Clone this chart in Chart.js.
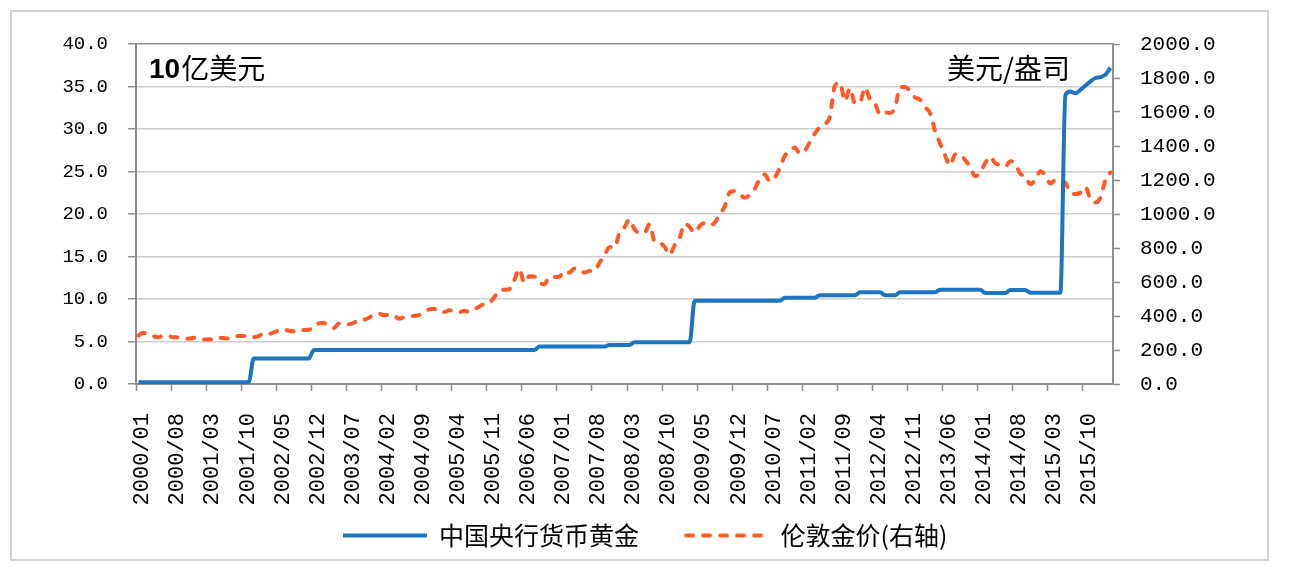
<!DOCTYPE html>
<html>
<head>
<meta charset="utf-8">
<script src="https://cdn.jsdelivr.net/npm/chart.js@4.4.1/dist/chart.umd.min.js"></script>
<style>
  html, body { margin: 0; padding: 0; background: #fff; }
</style>
</head>
<body>
<canvas id="myChart" width="1290" height="580"></canvas>
<script>
// months 2000/01 .. 2016/03
const months = [];
for (let i = 0; i < 195; i++) {
  const y = 2000 + Math.floor(i / 12);
  const m = (i % 12) + 1;
  months.push(y + '/' + (m < 10 ? '0' + m : m));
}

// 中国央行货币黄金, 10亿美元 (left axis)
const pbocGold = [
  0.2, 0.2, 0.2, 0.2, 0.2, 0.2, 0.2, 0.2, 0.2, 0.2, 0.2, 0.2,            // 2000
  0.2, 0.2, 0.2, 0.2, 0.2, 0.2, 0.2, 0.2, 0.2, 0.2, 0.2, 3.0,            // 2001
  3.0, 3.0, 3.0, 3.0, 3.0, 3.0, 3.0, 3.0, 3.0, 3.0, 3.0, 4.0,            // 2002
  4.0, 4.0, 4.0, 4.0, 4.0, 4.0, 4.0, 4.0, 4.0, 4.0, 4.0, 4.0,            // 2003
  4.0, 4.0, 4.0, 4.0, 4.0, 4.0, 4.0, 4.0, 4.0, 4.0, 4.0, 4.0,            // 2004
  4.0, 4.0, 4.0, 4.0, 4.0, 4.0, 4.0, 4.0, 4.0, 4.0, 4.0, 4.0,            // 2005
  4.0, 4.0, 4.0, 4.0, 4.0, 4.0, 4.0, 4.0, 4.4, 4.4, 4.4, 4.4,            // 2006
  4.4, 4.4, 4.4, 4.4, 4.4, 4.4, 4.4, 4.4, 4.4, 4.4, 4.6, 4.6,            // 2007
  4.6, 4.6, 4.6, 4.9, 4.9, 4.9, 4.9, 4.9, 4.9, 4.9, 4.9, 4.9,            // 2008
  4.9, 4.9, 4.9, 9.8, 9.8, 9.8, 9.8, 9.8, 9.8, 9.8, 9.8, 9.8,            // 2009
  9.8, 9.8, 9.8, 9.8, 9.8, 9.8, 9.8, 9.8, 9.8, 10.15, 10.15, 10.15,      // 2010
  10.15, 10.15, 10.15, 10.15, 10.45, 10.45, 10.45, 10.45, 10.45, 10.45, 10.45, 10.45, // 2011
  10.8, 10.8, 10.8, 10.8, 10.8, 10.45, 10.45, 10.45, 10.8, 10.8, 10.8, 10.8,          // 2012
  10.8, 10.8, 10.8, 10.8, 11.1, 11.1, 11.1, 11.1, 11.1, 11.1, 11.1, 11.1,             // 2013
  11.1, 10.7, 10.7, 10.7, 10.7, 10.7, 11.05, 11.05, 11.05, 11.05, 10.75, 10.75,       // 2014
  10.75, 10.75, 10.75, 10.75, 10.75, 34.0, 34.4, 34.2, 34.6, 35.1, 35.6, 36.0,        // 2015
  36.1, 36.4, 37.2                                                                     // 2016
];

// 伦敦金价, 美元/盎司 (right axis)
const londonGold = [
  285, 301, 286, 280, 275, 286, 282, 275, 274, 270, 266, 272,
  266, 262, 263, 261, 272, 270, 268, 272, 283, 283, 276, 276,
  282, 296, 294, 303, 315, 321, 313, 310, 319, 317, 319, 333,
  357, 359, 341, 328, 356, 356, 351, 360, 379, 379, 390, 408,
  414, 405, 407, 403, 384, 392, 398, 401, 405, 421, 439, 442,
  424, 423, 434, 429, 422, 431, 425, 438, 456, 470, 477, 510,
  550, 555, 557, 611, 677, 596, 634, 633, 598, 586, 628, 630,
  631, 665, 655, 679, 667, 656, 665, 665, 713, 755, 806, 803,
  890, 922, 968, 910, 889, 890, 940, 839, 830, 807, 761, 816,
  859, 943, 924, 890, 929, 946, 934, 949, 997, 1043, 1127, 1135,
  1118, 1095, 1113, 1149, 1205, 1233, 1193, 1216, 1271, 1342, 1370, 1391,
  1356, 1373, 1424, 1474, 1510, 1529, 1573, 1756, 1772, 1665, 1739, 1652,
  1656, 1743, 1674, 1650, 1586, 1597, 1594, 1626, 1745, 1747, 1722, 1685,
  1672, 1628, 1593, 1488, 1414, 1343, 1286, 1352, 1349, 1317, 1276, 1222,
  1244, 1300, 1336, 1299, 1289, 1279, 1311, 1295, 1237, 1223, 1175, 1202,
  1252, 1227, 1179, 1199, 1199, 1182, 1128, 1118, 1125, 1159, 1086, 1068,
  1098, 1200, 1245
];

const labelEvery = 7;
const axisGrey = '#8e8e8e';
const gridGrey = '#cdcdcd';
const blue = '#1b75c3';
const orange = '#ff5a26';
const goldDash = [7, 10];

// small canvas used as the legend symbol, so the dashed sample keeps its dashes
function lineSample(color, dash, cap) {
  const c = document.createElement('canvas');
  c.width = 84;
  c.height = 8;
  const g = c.getContext('2d');
  g.strokeStyle = color;
  g.lineWidth = 4;
  g.lineCap = cap;
  g.setLineDash(dash);
  g.beginPath();
  g.moveTo(cap === 'round' ? 2 : 0, 4);
  g.lineTo(84, 4);
  g.stroke();
  return c;
}

// frame around the whole picture
const framePlugin = {
  id: 'frame',
  beforeDraw(chart) {
    const ctx = chart.ctx;
    ctx.save();
    ctx.strokeStyle = '#d2d2d2';
    ctx.lineWidth = 2;
    ctx.strokeRect(11, 11, 1257, 549);
    ctx.restore();
  }
};

// unit labels inside the plot area
const unitPlugin = {
  id: 'units',
  afterDraw(chart) {
    const { ctx, chartArea } = chart;
    const base = chartArea.top + 34;
    ctx.save();
    ctx.fillStyle = '#000';
    ctx.textBaseline = 'alphabetic';
    ctx.font = "bold 28px 'Liberation Sans'";
    const x0 = chartArea.left + 13;
    ctx.fillText('10', x0, base);
    const w = ctx.measureText('10').width;
    ctx.font = "28px 'Noto Sans CJK SC'";
    ctx.fillText('亿美元', x0 + w + 1, base + 1);
    ctx.textAlign = 'right';
    ctx.fillText('美元/盎司', chartArea.right - 43, base + 1);
    ctx.restore();
  }
};

const ctx = document.getElementById('myChart');

new Chart(ctx, {
  type: 'line',
  data: {
    labels: months,
    datasets: [
      {
        label: '中国央行货币黄金',
        data: pbocGold,
        yAxisID: 'y',
        borderColor: blue,
        backgroundColor: blue,
        borderWidth: 4,
        pointRadius: 0,
        pointStyle: lineSample(blue, [], 'butt'),
        cubicInterpolationMode: 'monotone',
      },
      {
        label: '伦敦金价(右轴)',
        data: londonGold,
        yAxisID: 'y2',
        borderColor: orange,
        backgroundColor: orange,
        borderWidth: 4,
        borderDash: goldDash,
        borderCapStyle: 'round',
        pointRadius: 0,
        pointStyle: lineSample(orange, goldDash, 'round'),
        cubicInterpolationMode: 'monotone',
      },
    ],
  },
  options: {
    responsive: false,
    animation: false,
    layout: { padding: { top: 44, bottom: 22, left: 0, right: 0 } },
    scales: {
      x: {
        offset: true,
        grid: {
          offset: true,
          drawOnChartArea: false,
          tickLength: 7,
          tickWidth: 1.5,
          tickColor: (c) => (c.index % labelEvery === 0 ? axisGrey : 'rgba(0,0,0,0)'),
        },
        border: { color: axisGrey, width: 2 },
        ticks: {
          autoSkip: false,
          minRotation: 90,
          maxRotation: 90,
          padding: 22,
          labelOffset: 4,
          color: '#000',
          font: { family: "'Liberation Mono', monospace", size: 22 },
          callback: function (v, i) {
            return i % labelEvery === 0 ? this.getLabelForValue(v) : '';
          },
        },
        afterFit: (s) => {
          // keep the axis box short so the legend sits close below the long labels
          s.height = 94;
          s._computeLabelArea = () => undefined;
        },
      },
      y: {
        position: 'left',
        min: 0,
        max: 40,
        ticks: {
          stepSize: 5,
          padding: 20,
          color: '#000',
          font: { family: "'Liberation Mono', monospace", size: 19 },
          callback: (v) => v.toFixed(1),
        },
        grid: {
          color: (c) => (c.tick && c.tick.value === 40 ? axisGrey : gridGrey),
          lineWidth: 1.5,
          tickLength: 8,
          tickColor: axisGrey,
          tickWidth: 1.5,
        },
        border: { color: axisGrey, width: 2 },
        afterFit: (s) => { s.width = 136; },
      },
      y2: {
        position: 'right',
        min: 0,
        max: 2000,
        ticks: {
          stepSize: 200,
          padding: 20,
          color: '#000',
          font: { family: "'Liberation Mono', monospace", size: 21 },
          callback: (v) => v.toFixed(1),
        },
        grid: {
          drawOnChartArea: false,
          tickLength: 7,
          tickColor: axisGrey,
          tickWidth: 1.5,
        },
        border: { color: axisGrey, width: 2 },
        afterFit: (s) => { s.width = 177; },
      },
    },
    plugins: {
      legend: {
        display: true,
        position: 'bottom',
        labels: {
          usePointStyle: true,
          pointStyleWidth: 84,
          padding: 45,
          color: '#000',
          font: { family: "'Noto Sans CJK SC'", size: 25 },
        },
      },
      tooltip: { enabled: false },
      title: { display: false },
    },
  },
  plugins: [framePlugin, unitPlugin],
});
</script>
</body>
</html>
